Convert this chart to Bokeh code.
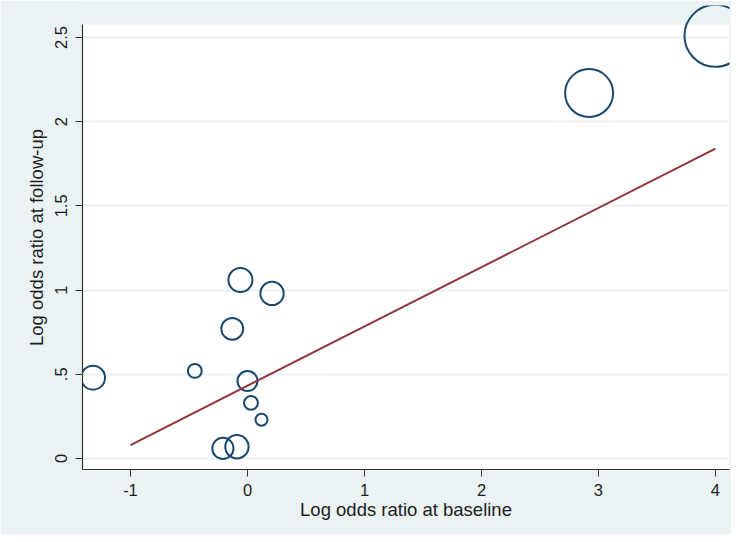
import numpy as np
from bokeh.plotting import figure
from bokeh.models import Range1d, FixedTicker, ColumnDataSource, BoxAnnotation
from bokeh.embed import file_html
from bokeh.resources import INLINE

# Data
baseline_lor = [-1.32, -0.45, -0.13, -0.06, 0.21, 0.00, 0.03, 0.12, -0.21, -0.09, 2.92, 4.00]
followup_lor = [0.48, 0.52, 0.77, 1.06, 0.98, 0.46, 0.33, 0.23, 0.06, 0.07, 2.17, 2.51]
weights = [36, 12, 30, 36, 34, 25, 12, 9, 28, 34, 144, 240]

fit_x = [-1.0, 4.0]
fit_y = [0.08, 1.84]

x_ticks = [-1, 0, 1, 2, 3, 4]
x_tick_labels = ["-1", "0", "1", "2", "3", "4"]
y_ticks = [0, 0.5, 1, 1.5, 2, 2.5]
y_tick_labels = ["0", ".5", "1", "1.5", "2", "2.5"]

BG = "#eaf2f3"
NAVY = "#1a476f"
MAROON = "#90353b"
FONT = "Liberation Sans"

y_bottom, y_plot_top, y_frame_top = -0.0653, 2.577, 2.69

p = figure(width=731, height=534, output_backend="svg", toolbar_location=None,
           x_range=Range1d(-1.41, 4.12), y_range=Range1d(y_bottom, y_frame_top),
           min_border_left=82, min_border_top=5, min_border_right=2, min_border_bottom=65)

p.background_fill_color = BG
p.border_fill_color = BG
p.outline_line_color = None

# white plot region (the frame extends a little higher so big bubbles are not clipped at top)
p.add_layout(BoxAnnotation(top=y_plot_top, fill_color="white", fill_alpha=1.0,
                           line_color=None, level="image"))

src = ColumnDataSource(dict(x=baseline_lor, y=followup_lor,
                            size=(4 * np.sqrt(np.array(weights, dtype=float))).tolist()))
p.scatter("x", "y", size="size", source=src, fill_color=None,
          line_color=NAVY, line_width=2)
p.line(fit_x, fit_y, line_color=MAROON, line_width=2)

# grids
p.xgrid.grid_line_color = None
p.ygrid.grid_line_color = BG
p.ygrid.grid_line_width = 2
p.ygrid.ticker = FixedTicker(ticks=y_ticks)

# x axis
p.xaxis.ticker = FixedTicker(ticks=x_ticks)
p.xaxis.major_label_overrides = {t: l for t, l in zip(x_ticks, x_tick_labels)}
p.xaxis.axis_label = "Log odds ratio at baseline"
# y axis
p.yaxis.ticker = FixedTicker(ticks=y_ticks)
p.yaxis.major_label_overrides = {t: l for t, l in zip(y_ticks, y_tick_labels)}
p.yaxis.axis_label = "Log odds ratio at follow-up"
p.yaxis.major_label_orientation = "vertical"
p.yaxis.bounds = (y_bottom, y_plot_top)

for ax in (p.xaxis[0], p.yaxis[0]):
    ax.axis_line_color = "#333333"
    ax.axis_line_width = 1.2
    ax.major_tick_line_color = "#333333"
    ax.major_tick_in = 0
    ax.major_tick_out = 7
    ax.minor_tick_line_color = None
    ax.major_label_text_font = FONT
    ax.major_label_text_font_size = "16.5px"
    ax.major_label_text_color = "#1e1e1e"
    ax.axis_label_text_font = FONT
    ax.axis_label_text_font_size = "18.5px"
    ax.axis_label_text_font_style = "normal"
    ax.axis_label_text_color = "#1e1e1e"

p.xaxis.major_label_standoff = 7
p.xaxis.axis_label_standoff = 0
p.yaxis.major_label_standoff = 8
p.yaxis.axis_label_standoff = 6

open("out.html", "w").write(file_html(p, INLINE))
